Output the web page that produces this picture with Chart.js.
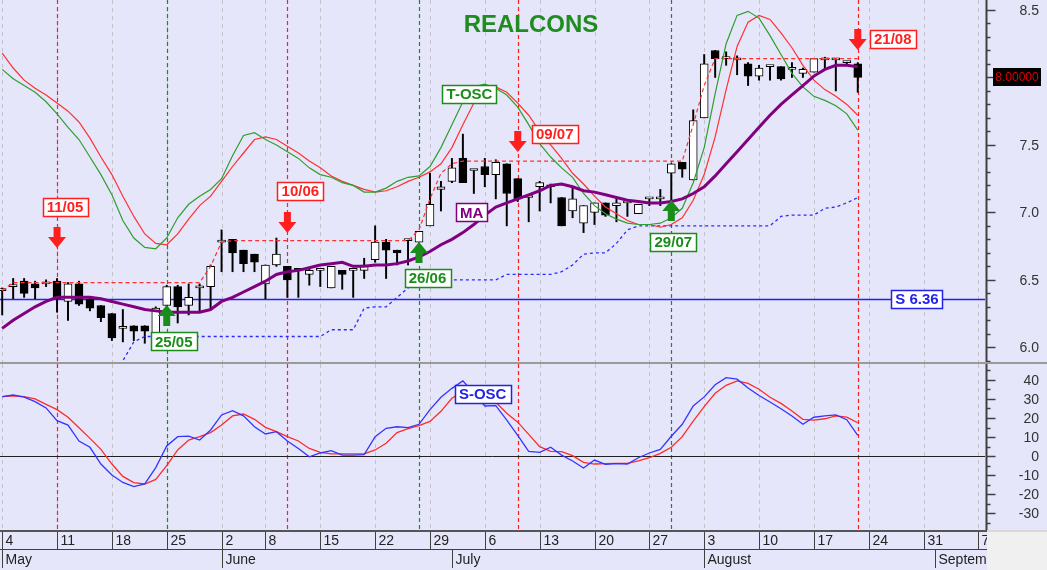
<!DOCTYPE html>
<html>
<head>
<meta charset="utf-8">
<title>REALCONS</title>
<script src="https://cdn.jsdelivr.net/npm/chart.js@4.4.1/dist/chart.umd.min.js"></script>
<style>
  html, body { margin: 0; padding: 0; background: #e6e6fa; }
  #wrap { position: relative; width: 1047px; height: 570px; overflow: hidden; background: #e6e6fa; }
  #priceChart { position: absolute; left: 0; top: 0; }
  #oscChart { position: absolute; left: 0; top: 362px; }
</style>
</head>
<body>
<div id="wrap">
  <canvas id="priceChart" width="1047" height="362"></canvas>
  <canvas id="oscChart" width="1047" height="208"></canvas>
</div>
<script>
// Cours journaliers (index 0 = 4 mai, un index par séance)
const openP = [6.42,6.45,6.49,6.47,6.47,6.49,6.34,6.47,6.36,6.31,
    6.25,6.14,6.16,6.16,6.09,6.31,6.45,6.31,6.44,6.45,
    6.78,6.80,6.72,6.69,6.47,6.61,6.60,6.58,6.54,6.57,
    6.44,6.57,6.57,6.57,6.65,6.78,6.72,6.79,6.78,6.90,
    7.17,7.23,7.40,7.31,7.34,7.28,7.36,7.25,7.11,7.19,
    7.20,7.11,7.01,6.92,7.00,7.07,7.05,7.07,6.99,7.10,
    7.10,7.29,7.37,7.24,7.70,8.20,8.14,8.13,8.10,8.01,
    8.08,8.08,8.06,8.03,8.04,8.13,8.13,8.11,8.10];
const highP = [6.44,6.51,6.51,6.49,6.50,6.51,6.48,6.49,6.37,6.31,
    6.25,6.28,6.16,6.16,6.30,6.46,6.46,6.47,6.47,6.61,
    6.87,6.80,6.72,6.69,6.61,6.81,6.60,6.58,6.58,6.57,
    6.60,6.57,6.57,6.66,6.90,6.80,6.72,6.80,6.86,7.29,
    7.23,7.40,7.58,7.31,7.40,7.39,7.36,7.25,7.11,7.23,
    7.21,7.11,7.18,7.05,7.07,7.07,7.10,7.07,7.06,7.10,
    7.17,7.36,7.37,7.76,8.17,8.20,8.19,8.16,8.11,8.09,
    8.08,8.08,8.11,8.07,8.14,8.15,8.13,8.12,8.11];
const lowP = [6.24,6.36,6.37,6.36,6.45,6.26,6.20,6.31,6.27,6.19,
    6.05,6.04,6.05,6.03,6.09,6.30,6.18,6.24,6.26,6.29,
    6.56,6.56,6.56,6.56,6.36,6.60,6.37,6.37,6.46,6.45,
    6.44,6.43,6.37,6.51,6.63,6.51,6.61,6.61,6.78,6.90,
    7.01,7.22,7.22,7.14,7.19,7.10,6.90,7.08,6.93,7.01,
    7.07,6.90,6.96,6.85,6.91,6.97,6.93,6.97,6.99,7.05,
    7.05,7.06,7.26,7.24,7.70,8.00,8.09,8.02,7.94,7.98,
    7.98,7.98,8.00,8.00,8.04,8.06,7.90,8.09,7.89];
const closeP = [6.43,6.46,6.40,6.44,6.47,6.36,6.47,6.32,6.29,6.22,
    6.07,6.14,6.12,6.12,6.29,6.45,6.30,6.37,6.44,6.60,
    6.78,6.70,6.62,6.63,6.61,6.69,6.50,6.57,6.57,6.57,
    6.60,6.54,6.57,6.61,6.78,6.72,6.70,6.80,6.86,7.06,
    7.19,7.33,7.22,7.31,7.28,7.37,7.14,7.10,7.11,7.22,
    7.19,6.90,7.10,7.05,7.07,6.98,7.07,7.07,7.06,7.10,
    7.10,7.36,7.32,7.68,8.10,8.14,8.14,8.13,8.01,8.07,
    8.08,7.99,8.06,8.06,8.14,8.13,8.13,8.11,8.00];

// Moyenne mobile
const maLine = [6.14,6.20,6.25,6.30,6.34,6.37,6.37,6.37,6.37,6.36,
    6.34,6.32,6.30,6.28,6.27,6.26,6.26,6.26,6.26,6.28,
    6.34,6.37,6.41,6.45,6.49,6.54,6.56,6.57,6.59,6.61,
    6.62,6.63,6.60,6.60,6.61,6.61,6.62,6.64,6.67,6.71,
    6.76,6.80,6.85,6.91,6.98,7.04,7.07,7.10,7.13,7.16,
    7.20,7.21,7.19,7.16,7.15,7.13,7.11,7.09,7.08,7.07,
    7.07,7.08,7.10,7.14,7.19,7.27,7.36,7.45,7.54,7.63,
    7.72,7.80,7.87,7.94,8.01,8.06,8.09,8.09,8.08];

// T-OSC (vert et rouge)
const toscGreen = [8.06,7.99,7.94,7.89,7.82,7.73,7.63,7.54,7.41,7.28,
    7.13,6.94,6.81,6.74,6.73,6.81,6.96,7.06,7.12,7.17,
    7.25,7.42,7.57,7.59,7.54,7.50,7.45,7.40,7.33,7.28,
    7.26,7.22,7.20,7.15,7.15,7.18,7.23,7.26,7.27,7.34,
    7.48,7.65,7.82,7.93,7.95,7.92,7.87,7.78,7.65,7.51,
    7.41,7.33,7.26,7.14,7.05,6.99,6.95,6.92,6.91,6.91,
    6.92,6.96,7.03,7.22,7.48,7.88,8.25,8.46,8.49,8.44,
    8.31,8.17,8.03,7.93,7.86,7.83,7.79,7.73,7.61];
const toscRed = [8.18,8.07,7.98,7.92,7.87,7.81,7.75,7.67,7.55,7.41,
    7.28,7.12,6.97,6.84,6.77,6.76,6.84,6.95,7.05,7.12,
    7.23,7.34,7.44,7.54,7.56,7.54,7.49,7.44,7.38,7.33,
    7.27,7.23,7.20,7.17,7.15,7.16,7.19,7.23,7.26,7.30,
    7.36,7.48,7.65,7.81,7.89,7.93,7.89,7.81,7.72,7.60,
    7.50,7.40,7.29,7.21,7.12,7.04,6.99,6.94,6.91,6.91,
    6.89,6.91,6.96,7.09,7.28,7.56,7.91,8.23,8.41,8.46,
    8.43,8.33,8.22,8.09,7.98,7.91,7.86,7.80,7.72];

// Plus haut (rouge pointillé) et stop (bleu pointillé)
const highestLine = [6.42,6.48,6.48,6.48,6.48,6.48,6.48,6.48,6.48,6.48,
    6.48,6.48,6.48,6.48,6.48,6.48,6.48,6.48,6.48,6.60,
    6.78,6.79,6.79,6.79,6.79,6.79,6.79,6.79,6.79,6.79,
    6.79,6.79,6.79,6.79,6.79,6.79,6.79,6.79,6.87,7.10,
    7.29,7.36,7.38,7.38,7.38,7.38,7.38,7.38,7.38,7.38,
    7.38,7.38,7.38,7.38,7.38,7.38,7.38,7.38,7.38,7.38,
    7.38,7.38,7.38,7.65,7.94,8.14,8.14,8.14,8.14,8.14,
    8.14,8.14,8.14,8.14,8.14,8.14,8.14,8.14,8.14];
const stopLine = [null,null,null,null,null,null,null,null,null,null,
    5.75,5.90,6.04,6.08,6.08,6.08,6.08,6.08,6.08,6.08,
    6.08,6.08,6.08,6.08,6.08,6.08,6.08,6.08,6.08,6.08,
    6.13,6.13,6.13,6.29,6.30,6.30,6.37,6.44,6.48,6.50,
    6.50,6.50,6.50,6.50,6.50,6.50,6.54,6.54,6.54,6.54,
    6.54,6.56,6.61,6.69,6.70,6.70,6.77,6.87,6.90,6.90,
    6.90,6.90,6.90,6.90,6.90,6.90,6.90,6.90,6.90,6.90,
    6.90,6.97,6.98,6.98,6.98,7.03,7.04,7.07,7.11];
const supportLevel = 6.36;

// S-OSC (bleu et rouge)
const soscBlue = [31.2,32.1,31.0,28.6,25.3,18.6,16.3,7.9,4.6,-4.2,
    -10.0,-13.9,-16.1,-14.7,-6.1,5.3,10.2,10.5,8.4,13.7,
    21.6,23.9,21.1,15.4,11.6,12.8,7.9,4.0,-0.4,1.6,
    2.8,0.5,0.5,0.7,10.2,14.6,15.4,14.9,16.7,24.4,
    30.9,35.6,39.5,33.0,26.3,26.5,18.9,10.8,2.5,1.9,
    4.6,0.5,-2.6,-6.3,-2.1,-4.4,-4.0,-4.2,-0.9,1.6,
    3.5,10.4,16.7,26.3,31.1,37.5,41.2,40.4,35.8,31.8,
    28.4,24.9,21.1,16.7,20.4,21.1,21.6,19.1,10.9];
const soscRed = [31.2,31.6,31.2,30.0,27.2,24.4,20.4,14.9,9.3,3.5,
    -4.2,-10.7,-14.0,-14.7,-12.3,-5.1,3.2,8.4,10.2,12.3,
    16.3,21.1,22.1,19.3,15.1,12.8,10.2,7.9,4.0,1.9,
    1.1,1.1,1.1,1.1,3.2,6.7,12.3,14.4,16.0,18.2,
    23.5,30.4,34.0,35.0,33.0,28.3,22.5,17.8,11.4,4.9,
    2.5,2.3,0.2,-3.3,-4.2,-4.0,-3.9,-3.9,-2.6,-0.9,
    1.4,4.6,10.2,18.4,26.0,33.0,37.2,39.5,38.2,35.1,
    30.9,27.7,23.7,19.3,18.9,19.6,21.1,20.5,17.5];

// Axe des dates
const weekIndex = [0,5,10,15,20,24,29,34,39,44,49,54,59,64,69,74,79,84,89];
const weekLabels = ['4','11','18','25','2','8','15','22','29','6','13','20','27','3','10','17','24','31','7'];
const monthIndex = [0,20,41,64,85];
const monthLabels = ['May','June','July','August','September'];

// Axes des prix / oscillateur
const priceTicks = [8.5,8.0,7.5,7.0,6.5,6.0];
const oscTicks = [40,30,20,10,0,-10,-20,-30];

// Signaux
const sellIndex = [5,26,47,78];
const sellLabels = ['11/05','10/06','09/07','21/08'];
const buyIndex = [15,38,61];
const buyLabels = ['25/05','26/06','29/07'];

// placement des étiquettes : [décalage x en px, prix du centre de l'étiquette, prix de la pointe de flèche]
const sellTagPos = [[8,7.040,6.736],[13,7.158,6.847],[37,7.581,7.447],[35,8.285,8.203]];
const buyTagPos = [[7,6.043,6.313],[8.5,6.517,6.780],[2,6.780,7.091]];

const BG = '#e6e6fa';
const RED = '#ff1f1f';
const GREEN = '#1a8c1a';
const BLUE = '#2323e8';
const PURPLE = '#800080';
const FONT = '"Liberation Sans", Arial, sans-serif';
const X_MIN = -0.2, X_MAX = 89.6;

function toXY(arr) {
    return arr.map((v, i) => ({ x: i, y: v }));
}

function vline(ctx, x, y0, y1, color, dash, width) {
    ctx.save();
    ctx.strokeStyle = color;
    ctx.lineWidth = width || 1;
    ctx.setLineDash(dash || []);
    ctx.beginPath();
    ctx.moveTo(Math.round(x) + 0.5, y0);
    ctx.lineTo(Math.round(x) + 0.5, y1);
    ctx.stroke();
    ctx.restore();
}

function drawTag(ctx, text, cx, cy, color, fontSize) {
    ctx.save();
    ctx.font = 'bold ' + (fontSize || 15) + 'px ' + FONT;
    const w = Math.round(ctx.measureText(text).width + 8);
    const h = 18;
    const x = Math.round(cx - w / 2) + 0.5, y = Math.round(cy - h / 2) + 0.5;
    ctx.fillStyle = '#ffffff';
    ctx.fillRect(x, y, w, h);
    ctx.strokeStyle = color;
    ctx.lineWidth = 1.5;
    ctx.strokeRect(x, y, w, h);
    ctx.fillStyle = color;
    ctx.textAlign = 'center';
    ctx.textBaseline = 'middle';
    ctx.fillText(text, cx, cy + 1);
    ctx.restore();
}

// dir = 1 : flèche vers le bas, dir = -1 : flèche vers le haut
function drawArrow(ctx, x, tipY, dir, color) {
    const h = 21, hh = 11, hw = 9, sw = 3.5;
    const baseY = tipY - dir * hh;
    const tailY = tipY - dir * h;
    ctx.save();
    ctx.fillStyle = color;
    ctx.beginPath();
    ctx.moveTo(x, tipY);
    ctx.lineTo(x - hw, baseY);
    ctx.lineTo(x - sw, baseY);
    ctx.lineTo(x - sw, tailY);
    ctx.lineTo(x + sw, tailY);
    ctx.lineTo(x + sw, baseY);
    ctx.lineTo(x + hw, baseY);
    ctx.closePath();
    ctx.fill();
    ctx.restore();
}

// Axe vertical de droite avec graduations majeures / mineures
function drawRightAxis(chart, minorStep, majorStep, labels, decimals) {
    const { ctx, chartArea: a, scales: { y } } = chart;
    const x0 = a.right + 1.5;
    ctx.save();
    ctx.strokeStyle = '#404040';
    ctx.lineWidth = 2;
    ctx.beginPath();
    ctx.moveTo(x0, a.top);
    ctx.lineTo(x0, a.bottom);
    ctx.stroke();
    ctx.lineWidth = 1.5;
    const n0 = Math.ceil(y.min / minorStep), n1 = Math.floor(y.max / minorStep);
    for (let n = n0; n <= n1; n++) {
        const v = n * minorStep;
        const py = Math.round(y.getPixelForValue(v)) + 0.5;
        const major = Math.abs(v / majorStep - Math.round(v / majorStep)) < 1e-6;
        ctx.beginPath();
        ctx.moveTo(x0, py);
        ctx.lineTo(x0 + (major ? 9 : 4), py);
        ctx.stroke();
    }
    ctx.fillStyle = '#333333';
    ctx.font = '14px ' + FONT;
    ctx.textAlign = 'right';
    ctx.textBaseline = 'middle';
    labels.forEach(v => {
        ctx.fillText(v.toFixed(decimals), 1039, y.getPixelForValue(v) + 1);
    });
    ctx.restore();
}

function drawWeekGrid(chart) {
    const { ctx, chartArea: a, scales: { x } } = chart;
    weekIndex.forEach(i => {
        vline(ctx, x.getPixelForValue(i), a.top, a.bottom, '#c2c2c8', [4, 4], 1);
    });
}

function drawSignalLines(chart) {
    const { ctx, chartArea: a, scales: { x } } = chart;
    sellIndex.forEach(i => vline(ctx, x.getPixelForValue(i), a.top, a.bottom, RED, [4, 3], 1.2));
    buyIndex.forEach(i => vline(ctx, x.getPixelForValue(i), a.top, a.bottom, GREEN, [4, 3], 1.2));
}

// Graphique des cours
const priceBackground = {
    id: 'priceBackground',
    beforeDraw(chart) {
        const { ctx, width, height } = chart;
        ctx.save();
        ctx.fillStyle = BG;
        ctx.fillRect(0, 0, width, height);
        ctx.restore();
    },
    beforeDatasetsDraw(chart) {
        const { ctx, chartArea: a, scales: { y } } = chart;
        drawWeekGrid(chart);
        // ligne de support
        const sy = Math.round(y.getPixelForValue(supportLevel)) + 0.5;
        ctx.save();
        ctx.strokeStyle = BLUE;
        ctx.lineWidth = 1.3;
        ctx.beginPath();
        ctx.moveTo(a.left, sy);
        ctx.lineTo(a.right, sy);
        ctx.stroke();
        ctx.restore();
        drawSignalLines(chart);
    }
};

const priceOverlay = {
    id: 'priceOverlay',
    afterDatasetsDraw(chart) {
        const { ctx, scales: { x, y } } = chart;
        sellIndex.forEach((i, k) => {
            const px = x.getPixelForValue(i);
            const [dx, ly, tip] = sellTagPos[k];
            drawArrow(ctx, px, y.getPixelForValue(tip), 1, RED);
            drawTag(ctx, sellLabels[k], px + dx, y.getPixelForValue(ly), RED);
        });
        buyIndex.forEach((i, k) => {
            const px = x.getPixelForValue(i);
            const [dx, ly, tip] = buyTagPos[k];
            drawArrow(ctx, px, y.getPixelForValue(tip), -1, GREEN);
            drawTag(ctx, buyLabels[k], px + dx, y.getPixelForValue(ly), GREEN);
        });
        drawTag(ctx, 'T-OSC', x.getPixelForValue(42.6), y.getPixelForValue(7.877), GREEN);
        drawTag(ctx, 'MA', x.getPixelForValue(42.8), y.getPixelForValue(7.0), PURPLE);
        drawTag(ctx, 'S ' + supportLevel.toFixed(2), x.getPixelForValue(83.4), y.getPixelForValue(supportLevel), BLUE);

        // titre
        ctx.save();
        ctx.font = 'bold 24px ' + FONT;
        ctx.fillStyle = '#1e8c1e';
        ctx.textAlign = 'center';
        ctx.textBaseline = 'middle';
        ctx.fillText('REALCONS', 531, 25);
        ctx.restore();
    },
    afterDraw(chart) {
        const { ctx, scales: { y } } = chart;
        drawRightAxis(chart, 0.1, 0.5, priceTicks, 1);
        // dernier cours
        const last = closeP[closeP.length - 1];
        const ly = Math.round(y.getPixelForValue(last));
        ctx.save();
        ctx.fillStyle = '#000000';
        ctx.fillRect(993, ly - 9, 48, 18);
        ctx.fillStyle = '#e00000';
        ctx.font = '12px ' + FONT;
        ctx.textAlign = 'center';
        ctx.textBaseline = 'middle';
        ctx.fillText(last.toFixed(5), 1017, ly + 1);
        ctx.restore();
    }
};

new Chart(document.getElementById('priceChart'), {
    type: 'bar',
    data: {
        datasets: [
            {
                type: 'line', label: 'MA', data: toXY(maLine),
                borderColor: PURPLE, borderWidth: 3, pointRadius: 0, order: 0
            },
            {
                type: 'line', label: 'T-OSC vert', data: toXY(toscGreen),
                borderColor: '#2e9e2e', borderWidth: 1.2, pointRadius: 0, order: 1
            },
            {
                type: 'line', label: 'T-OSC rouge', data: toXY(toscRed),
                borderColor: '#ff3030', borderWidth: 1.2, pointRadius: 0, order: 1
            },
            {
                type: 'line', label: 'Plus haut', data: toXY(highestLine),
                borderColor: '#ff3030', borderWidth: 1.2, borderDash: [4, 3], pointRadius: 0, order: 1
            },
            {
                type: 'line', label: 'Stop', data: toXY(stopLine),
                borderColor: '#2a2aff', borderWidth: 1.3, borderDash: [3, 3], pointRadius: 0,
                spanGaps: false, order: 1
            },
            {
                label: 'Corps', data: openP.map((o, i) => ({ x: i, y: [o, closeP[i]] })),
                backgroundColor: ctx => closeP[ctx.dataIndex] >= openP[ctx.dataIndex] ? '#ffffff' : '#000000',
                borderColor: '#000000', borderWidth: 1, borderSkipped: false,
                barThickness: 8, minBarLength: 2, grouped: false, order: 2
            },
            {
                label: 'Mèches', data: highP.map((h, i) => ({ x: i, y: [lowP[i], h] })),
                backgroundColor: '#000000', barThickness: 1.3, grouped: false, order: 3
            }
        ]
    },
    options: {
        responsive: false,
        animation: false,
        devicePixelRatio: 1,
        layout: { padding: { left: 0, right: 62, top: 0, bottom: 0 } },
        plugins: { legend: { display: false }, tooltip: { enabled: false } },
        scales: {
            x: { type: 'linear', min: X_MIN, max: X_MAX, offset: false, display: false },
            y: { type: 'linear', min: 5.891, max: 8.574, display: false }
        }
    },
    plugins: [priceBackground, priceOverlay]
});

// Graphique de l'oscillateur
const oscBackground = {
    id: 'oscBackground',
    beforeDraw(chart) {
        const { ctx, width, height } = chart;
        ctx.save();
        ctx.fillStyle = BG;
        ctx.fillRect(0, 0, width, height);
        // séparateur entre les deux panneaux
        ctx.fillStyle = '#9a9a9a';
        ctx.fillRect(0, 0, width, 2);
        ctx.restore();
    },
    beforeDatasetsDraw(chart) {
        const { ctx, chartArea: a, scales: { y } } = chart;
        drawWeekGrid(chart);
        drawSignalLines(chart);
        const zy = Math.round(y.getPixelForValue(0)) + 0.5;
        ctx.save();
        ctx.strokeStyle = '#202020';
        ctx.lineWidth = 1;
        ctx.beginPath();
        ctx.moveTo(a.left, zy);
        ctx.lineTo(a.right, zy);
        ctx.stroke();
        ctx.restore();
    }
};

const oscOverlay = {
    id: 'oscOverlay',
    afterDatasetsDraw(chart) {
        const { ctx, scales: { x, y } } = chart;
        drawTag(ctx, 'S-OSC', x.getPixelForValue(43.8), y.getPixelForValue(32.6), BLUE);
    },
    afterDraw(chart) {
        const { ctx, chartArea: a, scales: { x }, width, height } = chart;
        drawRightAxis(chart, 5, 10, oscTicks, 0);

        // bande des dates
        const top = a.bottom, mid = top + 19, bot = top + 38;
        const right = a.right + 2;
        ctx.save();
        ctx.fillStyle = '#f0f0f0';
        ctx.fillRect(right, top, width - right, height - top);
        ctx.fillStyle = BG;
        ctx.fillRect(0, top, right, height - top);
        ctx.strokeStyle = '#555555';
        ctx.lineWidth = 2;
        ctx.beginPath();
        ctx.moveTo(0, top + 1);
        ctx.lineTo(right, top + 1);
        ctx.stroke();
        ctx.strokeStyle = '#d8d8d8';
        ctx.beginPath();
        ctx.moveTo(right, top + 1);
        ctx.lineTo(width, top + 1);
        ctx.stroke();

        ctx.beginPath();
        ctx.rect(0, top, right, height - top);
        ctx.clip();

        ctx.strokeStyle = '#404040';
        ctx.lineWidth = 1;
        ctx.beginPath();
        ctx.moveTo(0, mid + 0.5);
        ctx.lineTo(right, mid + 0.5);
        ctx.stroke();

        ctx.font = '14px ' + FONT;
        ctx.fillStyle = '#222222';
        ctx.textAlign = 'left';
        ctx.textBaseline = 'middle';
        weekIndex.forEach((i, k) => {
            const px = Math.round(x.getPixelForValue(i)) + 0.5;
            ctx.beginPath();
            ctx.moveTo(px, top + 2);
            ctx.lineTo(px, mid);
            ctx.stroke();
            ctx.fillText(weekLabels[k], px + 3, top + 11);
        });
        monthIndex.forEach((i, k) => {
            const px = Math.round(x.getPixelForValue(i)) + 0.5;
            ctx.beginPath();
            ctx.moveTo(px, mid);
            ctx.lineTo(px, bot);
            ctx.stroke();
            ctx.fillText(monthLabels[k], px + 3, mid + 11);
        });
        ctx.restore();
    }
};

new Chart(document.getElementById('oscChart'), {
    type: 'line',
    data: {
        datasets: [
            {
                label: 'S-OSC bleu', data: toXY(soscBlue),
                borderColor: '#3434ff', borderWidth: 1.3, pointRadius: 0, order: 0
            },
            {
                label: 'S-OSC rouge', data: toXY(soscRed),
                borderColor: '#ff2a2a', borderWidth: 1.3, pointRadius: 0, order: 1
            }
        ]
    },
    options: {
        responsive: false,
        animation: false,
        devicePixelRatio: 1,
        layout: { padding: { left: 0, right: 62, top: 2, bottom: 40 } },
        plugins: { legend: { display: false }, tooltip: { enabled: false } },
        scales: {
            x: { type: 'linear', min: X_MIN, max: X_MAX, offset: false, display: false },
            y: { type: 'linear', min: -38.9, max: 48.4, display: false }
        }
    },
    plugins: [oscBackground, oscOverlay]
});
</script>
</body>
</html>
